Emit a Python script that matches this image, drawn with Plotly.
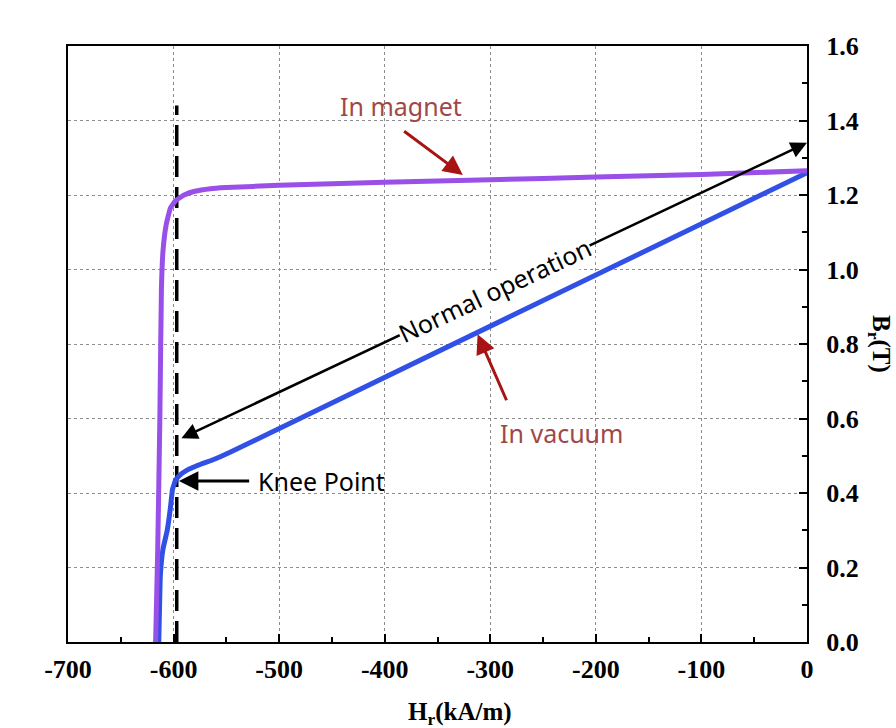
import plotly.graph_objects as go

# ---- data ----
magnet_H = [-617, -615, -613, -611.5, -610, -607, -603, -598, -590, -580, -565, -550, -500, -400, -300, -200, -100, 0]
magnet_B = [0.0, 0.25, 0.6, 0.95, 1.05, 1.12, 1.165, 1.185, 1.2, 1.21, 1.217, 1.22, 1.226, 1.234, 1.241, 1.248, 1.255, 1.265]

vacuum_H = [-614, -612.5, -610, -606, -603, -601, -598, -594, -588, -578, -562, -546, 0]
vacuum_B = [0.0, 0.18, 0.25, 0.3, 0.36, 0.41, 0.435, 0.448, 0.46, 0.473, 0.49, 0.51, 1.26]

knee_H = -597
knee_line_B = [0.0, 1.44]

x_ticks = [-700, -600, -500, -400, -300, -200, -100, 0]
y_ticks = [0.0, 0.2, 0.4, 0.6, 0.8, 1.0, 1.2, 1.4, 1.6]

PURPLE = "#9950e8"
BLUE = "#3050e6"
ARROW_RED = "#a81414"
LABEL_RED = "#a04848"
TXT_FONT = "Noto Sans"
TICK_FONT = "Liberation Serif"

fig = go.Figure()

fig.add_trace(go.Scatter(x=[knee_H, knee_H], y=knee_line_B, mode="lines",
                         line=dict(color="black", width=3.5, dash="21px,10px"),
                         showlegend=False, hoverinfo="skip"))
fig.add_trace(go.Scatter(x=vacuum_H, y=vacuum_B, mode="lines",
                         line=dict(color=BLUE, width=5, shape="spline", smoothing=0.3),
                         showlegend=False))
fig.add_trace(go.Scatter(x=magnet_H, y=magnet_B, mode="lines",
                         line=dict(color=PURPLE, width=5, shape="spline", smoothing=0.3),
                         showlegend=False))

ann = []
# Normal operation double arrow
ann.append(dict(x=0, y=1.34, ax=-594, ay=0.545, xref="x", yref="y", axref="x", ayref="y",
                text="", showarrow=True, arrowhead=2, arrowside="end+start",
                arrowsize=1.3, arrowwidth=2.5, arrowcolor="black"))
ann.append(dict(x=-296, y=0.945, xref="x", yref="y", text="Normal operation",
                showarrow=False, textangle=-25.2, bgcolor="white", borderpad=0,
                font=dict(family=TXT_FONT, size=25, color="black")))
# In magnet
ann.append(dict(x=-326, y=1.254, ax=-383, ay=1.374, xref="x", yref="y", axref="x", ayref="y",
                text="", showarrow=True, arrowhead=2, arrowsize=1.3, arrowwidth=3,
                arrowcolor=ARROW_RED))
ann.append(dict(x=-385, y=1.44, xref="x", yref="y", text="In magnet", showarrow=False,
                font=dict(family=TXT_FONT, size=25, color=LABEL_RED)))
# In vacuum
ann.append(dict(x=-312, y=0.826, ax=-284, ay=0.645, xref="x", yref="y", axref="x", ayref="y",
                text="", showarrow=True, arrowhead=2, arrowsize=1.3, arrowwidth=3,
                arrowcolor=ARROW_RED))
ann.append(dict(x=-233, y=0.56, xref="x", yref="y", text="In vacuum", showarrow=False,
                font=dict(family=TXT_FONT, size=25, color=LABEL_RED)))
# Knee point
ann.append(dict(x=-595, y=0.432, ax=-527, ay=0.432, xref="x", yref="y", axref="x", ayref="y",
                text="", showarrow=True, arrowhead=2, arrowsize=1.3, arrowwidth=3,
                arrowcolor="black"))
ann.append(dict(x=-522, y=0.432, xref="x", yref="y", text="Knee Point", showarrow=False,
                xanchor="left", font=dict(family=TXT_FONT, size=25, color="black")))
# axis titles
ann.append(dict(x=0.53, y=-0.09, xref="paper", yref="paper", yanchor="top",
                text="<b>H<sub>r</sub>(kA/m)</b>", showarrow=False,
                font=dict(family=TICK_FONT, size=25, color="black")))
ann.append(dict(x=1.075, y=0.5, xref="paper", yref="paper", xanchor="left",
                text="<b>B<sub>r</sub>(T)</b>", showarrow=False, textangle=90,
                font=dict(family=TICK_FONT, size=25, color="black")))

fig.update_layout(
    width=896, height=728,
    margin=dict(l=68, r=89, t=46, b=86),
    paper_bgcolor="white", plot_bgcolor="white",
    annotations=ann,
    showlegend=False,
)

grid = dict(showgrid=True, gridcolor="#8c8c8c", gridwidth=1, griddash="3px,3px")

fig.update_xaxes(range=[-700, 0], tickvals=x_ticks, ticktext=[str(v) for v in x_ticks],
                 ticks="inside", ticklen=8, tickwidth=2, tickcolor="black",
                 minor=dict(dtick=50, ticks="inside", ticklen=5, tickwidth=2, tickcolor="black", showgrid=False),
                 showline=True, linecolor="black", linewidth=2, mirror=True,
                 zeroline=False, ticklabelstandoff=3,
                 tickfont=dict(family=TICK_FONT, size=26, color="black", weight="bold"),
                 **grid)
fig.update_yaxes(range=[0, 1.6], tickvals=y_ticks, ticktext=[f"{v:.1f}" for v in y_ticks],
                 side="right", ticks="inside", ticklen=8, tickwidth=2, tickcolor="black",
                 minor=dict(dtick=0.1, ticks="inside", ticklen=5, tickwidth=2, tickcolor="black", showgrid=False),
                 showline=True, linecolor="black", linewidth=2, mirror=True,
                 zeroline=False, ticklabelstandoff=12,
                 tickfont=dict(family=TICK_FONT, size=26, color="black", weight="bold"),
                 **grid)

fig.write_html("out.html")
